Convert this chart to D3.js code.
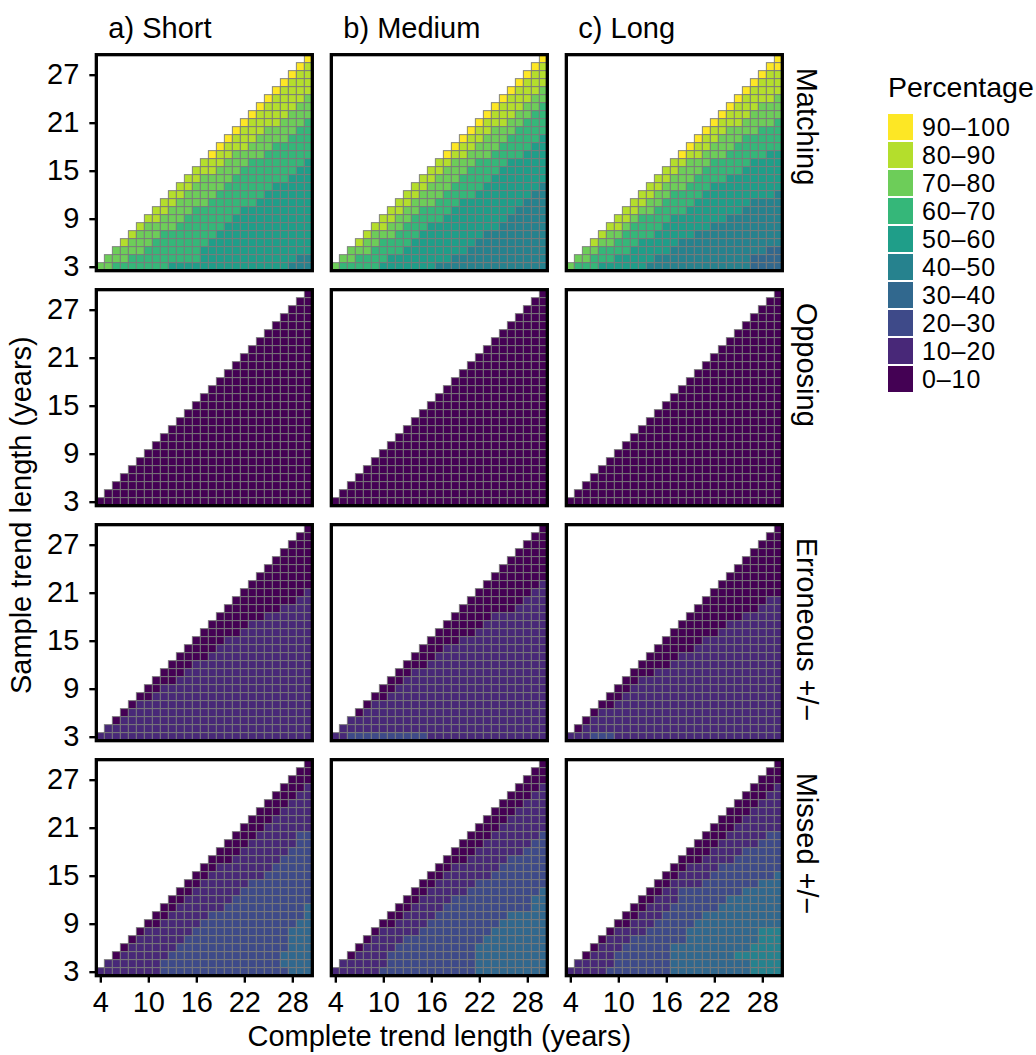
<!DOCTYPE html>
<html>
<head>
<meta charset="utf-8">
<script src="https://cdn.jsdelivr.net/npm/d3@7"></script>
<style>
  body { margin: 0; background: #fff; }
  text { font-family: "Liberation Sans", Arial, Helvetica, sans-serif; fill: #000; }
</style>
</head>
<body>
<div id="chart"></div>
<script>
// Facet labels
const trendTypes = ["a) Short", "b) Medium", "c) Long"];
const outcomes = ["Matching", "Opposing", "Erroneous +/\u2212", "Missed +/\u2212"];

// Axis values
const completeYears = [4, 5, 6, 7, 8, 9, 10, 11, 12, 13, 14, 15, 16, 17, 18, 19, 20, 21, 22, 23, 24, 25, 26, 27, 28, 29, 30];
const sampleYears = [29, 28, 27, 26, 25, 24, 23, 22, 21, 20, 19, 18, 17, 16, 15, 14, 13, 12, 11, 10, 9, 8, 7, 6, 5, 4, 3];
const xTicks = [4, 10, 16, 22, 28];
const yTicks = [3, 9, 15, 21, 27];

// Legend classes (index = class digit used in the grids below)
const classLabels = ["0\u201310", "10\u201320", "20\u201330", "30\u201340", "40\u201350",
                     "50\u201360", "60\u201370", "70\u201380", "80\u201390", "90\u2013100"];
const classColors = ["#440154", "#482878", "#3E4A89", "#31688E", "#26828E",
                     "#1F9E89", "#35B779", "#6DCD59", "#B4DE2C", "#FDE725"];

// Percentage class per cell. One string per sample length (29 at top, 3 at bottom),
// one character per complete length 4..30 (groups: 4-9, 10-15, 16-21, 22-27, 28-30).
// "." = no cell.
const matchingShort = [
  "...... ...... ...... ...... ..9",
  "...... ...... ...... ...... .98",
  "...... ...... ...... ...... 988",
  "...... ...... ...... .....9 888",
  "...... ...... ...... ....98 888",
  "...... ...... ...... ...988 887",
  "...... ...... ...... ..9888 877",
  "...... ...... ...... .98888 777",
  "...... ...... ...... 988887 776",
  "...... ...... .....9 888777 766",
  "...... ...... ....98 887777 666",
  "...... ...... ...988 877766 666",
  "...... ...... ..9887 777666 666",
  "...... ...... .88877 766666 665",
  "...... ...... 888777 666666 655",
  "...... .....8 877776 666666 555",
  "...... ....88 777766 666655 555",
  "...... ...887 777666 666555 555",
  "...... ..8877 776666 665555 555",
  "...... .88777 666666 555555 555",
  "...... 887776 666665 555555 555",
  ".....8 777766 666655 555555 555",
  "....87 776666 666555 555555 555",
  "...877 766666 665555 555555 555",
  "..7777 666666 655555 555555 555",
  ".77766 666666 655555 555555 544",
  "776666 666555 555555 555555 444"
];
const matchingMedium = [
  "...... ...... ...... ...... ..9",
  "...... ...... ...... ...... .98",
  "...... ...... ...... ...... 988",
  "...... ...... ...... .....9 888",
  "...... ...... ...... ....98 887",
  "...... ...... ...... ...988 877",
  "...... ...... ...... ..9888 776",
  "...... ...... ...... .98887 766",
  "...... ...... ...... 988877 666",
  "...... ...... .....9 887776 666",
  "...... ...... ....98 877766 665",
  "...... ...... ...988 777666 655",
  "...... ...... ..9887 776666 555",
  "...... ...... .88777 666655 555",
  "...... ...... 887776 666555 555",
  "...... .....8 877766 665555 555",
  "...... ....88 777666 655555 554",
  "...... ...887 776666 555555 544",
  "...... ..8877 766655 555555 444",
  "...... .88776 666555 555554 444",
  "...... 887766 665555 555544 444",
  ".....8 877666 555555 555444 444",
  "....87 776665 555555 544444 444",
  "...877 666655 555555 444444 444",
  "..7776 666555 555554 444444 444",
  ".77666 655555 555444 444444 444",
  "766666 555555 544444 444444 444"
];
const matchingLong = [
  "...... ...... ...... ...... ..9",
  "...... ...... ...... ...... .99",
  "...... ...... ...... ...... 988",
  "...... ...... ...... .....9 888",
  "...... ...... ...... ....98 888",
  "...... ...... ...... ...988 887",
  "...... ...... ...... ..9888 777",
  "...... ...... ...... .98887 777",
  "...... ...... ...... 988877 776",
  "...... ...... .....9 887777 666",
  "...... ...... ....98 877766 666",
  "...... ...... ...988 777666 666",
  "...... ...... ..9887 776666 655",
  "...... ...... .88777 666665 555",
  "...... ...... 887776 666655 555",
  "...... .....8 877766 665555 555",
  "...... ....88 777666 555555 555",
  "...... ...887 766665 555555 554",
  "...... ..8877 666655 555554 444",
  "...... .88776 666555 555544 444",
  "...... 887666 655555 554444 444",
  ".....8 876666 555555 444444 444",
  "....87 766665 555544 444444 444",
  "...877 666555 554444 444444 444",
  "..7766 665555 544444 444444 433",
  ".77666 555554 444444 444443 333",
  "766655 555544 444444 444443 333"
];
const opposingShort = [
  "...... ...... ...... ...... ..0",
  "...... ...... ...... ...... .00",
  "...... ...... ...... ...... 000",
  "...... ...... ...... .....0 000",
  "...... ...... ...... ....00 000",
  "...... ...... ...... ...000 000",
  "...... ...... ...... ..0000 000",
  "...... ...... ...... .00000 000",
  "...... ...... ...... 000000 000",
  "...... ...... .....0 000000 000",
  "...... ...... ....00 000000 000",
  "...... ...... ...000 000000 000",
  "...... ...... ..0000 000000 000",
  "...... ...... .00000 000000 000",
  "...... ...... 000000 000000 000",
  "...... .....0 000000 000000 000",
  "...... ....00 000000 000000 000",
  "...... ...000 000000 000000 000",
  "...... ..0000 000000 000000 000",
  "...... .00000 000000 000000 000",
  "...... 000000 000000 000000 000",
  ".....0 000000 000000 000000 000",
  "....00 000000 000000 000000 000",
  "...000 000000 000000 000000 000",
  "..0000 000000 000000 000000 000",
  ".00000 000000 000000 000000 000",
  "000000 000000 000000 000000 000"
];
const opposingMedium = [
  "...... ...... ...... ...... ..0",
  "...... ...... ...... ...... .00",
  "...... ...... ...... ...... 000",
  "...... ...... ...... .....0 000",
  "...... ...... ...... ....00 000",
  "...... ...... ...... ...000 000",
  "...... ...... ...... ..0000 000",
  "...... ...... ...... .00000 000",
  "...... ...... ...... 000000 000",
  "...... ...... .....0 000000 000",
  "...... ...... ....00 000000 000",
  "...... ...... ...000 000000 000",
  "...... ...... ..0000 000000 000",
  "...... ...... .00000 000000 000",
  "...... ...... 000000 000000 000",
  "...... .....0 000000 000000 000",
  "...... ....00 000000 000000 000",
  "...... ...000 000000 000000 000",
  "...... ..0000 000000 000000 000",
  "...... .00000 000000 000000 000",
  "...... 000000 000000 000000 000",
  ".....0 000000 000000 000000 000",
  "....00 000000 000000 000000 000",
  "...000 000000 000000 000000 000",
  "..0000 000000 000000 000000 000",
  ".00000 000000 000000 000000 000",
  "000000 000000 000000 000000 000"
];
const opposingLong = [
  "...... ...... ...... ...... ..0",
  "...... ...... ...... ...... .00",
  "...... ...... ...... ...... 000",
  "...... ...... ...... .....0 000",
  "...... ...... ...... ....00 000",
  "...... ...... ...... ...000 000",
  "...... ...... ...... ..0000 000",
  "...... ...... ...... .00000 000",
  "...... ...... ...... 000000 000",
  "...... ...... .....0 000000 000",
  "...... ...... ....00 000000 000",
  "...... ...... ...000 000000 000",
  "...... ...... ..0000 000000 000",
  "...... ...... .00000 000000 000",
  "...... ...... 000000 000000 000",
  "...... .....0 000000 000000 000",
  "...... ....00 000000 000000 000",
  "...... ...000 000000 000000 000",
  "...... ..0000 000000 000000 000",
  "...... .00000 000000 000000 000",
  "...... 000000 000000 000000 000",
  ".....0 000000 000000 000000 000",
  "....00 000000 000000 000000 000",
  "...000 000000 000000 000000 000",
  "..0000 000000 000000 000000 000",
  ".00000 000000 000000 000000 000",
  "000000 000000 000000 000000 000"
];
const erroneousShort = [
  "...... ...... ...... ...... ..0",
  "...... ...... ...... ...... .00",
  "...... ...... ...... ...... 000",
  "...... ...... ...... .....0 000",
  "...... ...... ...... ....00 000",
  "...... ...... ...... ...000 000",
  "...... ...... ...... ..0000 000",
  "...... ...... ...... .00000 000",
  "...... ...... ...... 000000 001",
  "...... ...... .....0 000000 011",
  "...... ...... ....00 000001 111",
  "...... ...... ...000 000111 111",
  "...... ...... ..0000 011111 111",
  "...... ...... .00000 111111 111",
  "...... ...... 000011 111111 111",
  "...... .....0 000111 111111 111",
  "...... ....00 001111 111111 111",
  "...... ...000 111111 111111 111",
  "...... ..0001 111111 111111 111",
  "...... .00011 111111 111111 111",
  "...... 001111 111111 111111 111",
  ".....0 011111 111111 111111 111",
  "....01 111111 111111 111111 111",
  "...011 111111 111111 111111 111",
  "..0111 111111 111111 111111 111",
  ".11111 111111 111111 111111 111",
  "111111 111111 111111 111111 111"
];
const erroneousMedium = [
  "...... ...... ...... ...... ..0",
  "...... ...... ...... ...... .00",
  "...... ...... ...... ...... 000",
  "...... ...... ...... .....0 000",
  "...... ...... ...... ....00 000",
  "...... ...... ...... ...000 000",
  "...... ...... ...... ..0000 000",
  "...... ...... ...... .00000 001",
  "...... ...... ...... 000000 011",
  "...... ...... .....0 000000 111",
  "...... ...... ....00 000001 111",
  "...... ...... ...000 001111 111",
  "...... ...... ..0000 011111 111",
  "...... ...... .00000 111111 111",
  "...... ...... 000011 111111 111",
  "...... .....0 001111 111111 111",
  "...... ....00 011111 111111 111",
  "...... ...000 111111 111111 111",
  "...... ..0011 111111 111111 111",
  "...... .00111 111111 111111 111",
  "...... 001111 111111 111111 111",
  ".....0 011111 111111 111111 111",
  "....01 111111 111111 111111 111",
  "...011 111111 111111 111111 111",
  "..1111 111111 111111 111111 111",
  ".11111 111111 111111 111111 111",
  "112222 222222 111111 111111 111"
];
const erroneousLong = [
  "...... ...... ...... ...... ..0",
  "...... ...... ...... ...... .00",
  "...... ...... ...... ...... 000",
  "...... ...... ...... .....0 000",
  "...... ...... ...... ....00 000",
  "...... ...... ...... ...000 000",
  "...... ...... ...... ..0000 000",
  "...... ...... ...... .00000 000",
  "...... ...... ...... 000000 000",
  "...... ...... .....0 000000 011",
  "...... ...... ....00 000000 111",
  "...... ...... ...000 000011 111",
  "...... ...... ..0000 001111 111",
  "...... ...... .00000 011111 111",
  "...... ...... 000001 111111 111",
  "...... .....0 000011 111111 111",
  "...... ....00 001111 111111 111",
  "...... ...000 011111 111111 111",
  "...... ..0001 111111 111111 111",
  "...... .00111 111111 111111 111",
  "...... 001111 111111 111111 111",
  ".....0 011111 111111 111111 111",
  "....00 111111 111111 111111 111",
  "...011 111111 111111 111111 111",
  "..0111 111111 111111 111111 111",
  ".01111 111111 111111 111111 111",
  "111222 111111 111111 111111 111"
];
const missedShort = [
  "...... ...... ...... ...... ..0",
  "...... ...... ...... ...... .00",
  "...... ...... ...... ...... 000",
  "...... ...... ...... .....0 001",
  "...... ...... ...... ....00 011",
  "...... ...... ...... ...000 111",
  "...... ...... ...... ..0001 111",
  "...... ...... ...... .00011 111",
  "...... ...... ...... 000111 111",
  "...... ...... .....0 001111 122",
  "...... ...... ....00 011111 122",
  "...... ...... ...000 111111 222",
  "...... ...... ..0001 111112 222",
  "...... ...... .00111 111122 222",
  "...... ...... 001111 111222 222",
  "...... .....0 011111 122222 222",
  "...... ....00 111111 222222 222",
  "...... ...001 111112 222222 222",
  "...... ..0011 111122 222222 223",
  "...... .00111 112222 222222 223",
  "...... 001111 122222 222222 233",
  ".....0 111111 222222 222222 333",
  "....01 111112 222222 222222 333",
  "...011 111122 222222 222222 333",
  "..0111 111222 222222 222223 333",
  ".11111 112222 222222 222223 333",
  "111111 112222 222222 222222 333"
];
const missedMedium = [
  "...... ...... ...... ...... ..0",
  "...... ...... ...... ...... .00",
  "...... ...... ...... ...... 000",
  "...... ...... ...... .....0 001",
  "...... ...... ...... ....00 011",
  "...... ...... ...... ...000 111",
  "...... ...... ...... ..0001 111",
  "...... ...... ...... .00011 111",
  "...... ...... ...... 000111 111",
  "...... ...... .....0 001111 112",
  "...... ...... ....00 011111 122",
  "...... ...... ...000 111111 222",
  "...... ...... ..0001 111122 222",
  "...... ...... .00111 111222 222",
  "...... ...... 001111 112222 222",
  "...... .....0 011111 222222 222",
  "...... ....00 111112 222222 223",
  "...... ...001 111222 222222 233",
  "...... ..0011 112222 222222 233",
  "...... .00111 122222 222233 333",
  "...... 001111 222222 222333 333",
  ".....0 111112 222222 223333 333",
  "....01 111222 222222 233333 333",
  "...011 112222 222222 333333 333",
  "..0111 122222 222222 333333 333",
  ".11111 122222 222222 333333 333",
  "111111 222222 222222 333333 333"
];
const missedLong = [
  "...... ...... ...... ...... ..0",
  "...... ...... ...... ...... .00",
  "...... ...... ...... ...... 000",
  "...... ...... ...... .....0 001",
  "...... ...... ...... ....00 011",
  "...... ...... ...... ...000 111",
  "...... ...... ...... ..0001 111",
  "...... ...... ...... .00011 111",
  "...... ...... ...... 000111 111",
  "...... ...... .....0 001111 122",
  "...... ...... ....00 011111 222",
  "...... ...... ...000 111122 222",
  "...... ...... ..0001 111222 222",
  "...... ...... .00111 122222 222",
  "...... ...... 001111 222222 223",
  "...... .....0 011112 222222 333",
  "...... ....00 112222 222233 333",
  "...... ...001 112222 223333 333",
  "...... ..0011 122222 233333 333",
  "...... .00111 222223 333333 333",
  "...... 001112 222233 333333 333",
  ".....0 111122 222333 333333 444",
  "....01 112222 222333 333333 444",
  "...011 122222 233333 333334 444",
  "..0111 222222 233333 333444 444",
  ".11111 222222 233333 333334 444",
  "111112 222222 233333 333334 444"
];

// rows = outcomes, columns = trend types
const panelGrids = [
  [matchingShort, matchingMedium, matchingLong],
  [opposingShort, opposingMedium, opposingLong],
  [erroneousShort, erroneousMedium, erroneousLong],
  [missedShort, missedMedium, missedLong]
];

const width = 1036, height = 1055;
const panelSize = 216, panelStep = 235;
const originX = 96.33, originY = 54.67;
const fontSize = 29;

const svg = d3.select("#chart").append("svg")
    .attr("width", width)
    .attr("height", height);

let x = d3.scaleLinear().domain([3.5, 30.5]).range([0, panelSize]);
let y = d3.scaleLinear().domain([2.5, 29.5]).range([panelSize, 0]);
let fill = d3.scaleOrdinal().domain(d3.range(classColors.length)).range(classColors);

// turn a grid of strings into cell records
function gridCells(grid) {
    let cells = [];
    grid.forEach(function(row, r) {
        let chars = row.replace(/ /g, "");
        for (let k = 0; k < chars.length; k++) {
            if (chars[k] === ".") continue;
            cells.push({complete: completeYears[k], sample: sampleYears[r], level: +chars[k]});
        }
    });
    return cells;
}

outcomes.forEach(function(outcome, i) {
    trendTypes.forEach(function(trend, j) {
        let g = svg.append("g")
            .attr("transform", `translate(${originX + j * panelStep}, ${originY + i * panelStep})`);

        g.selectAll("rect.cell")
            .data(gridCells(panelGrids[i][j]))
            .enter()
            .append("rect")
            .attr("class", "cell")
            .attr("x", d => x(d.complete - 0.5))
            .attr("y", d => y(d.sample + 0.5))
            .attr("width", x(1) - x(0))
            .attr("height", y(0) - y(1))
            .style("fill", d => fill(d.level))
            .style("stroke", "#7a7a7a")
            .style("stroke-width", 0.9);

        // panel border
        g.append("rect")
            .attr("width", panelSize)
            .attr("height", panelSize)
            .style("fill", "none")
            .style("stroke", "#000")
            .style("stroke-width", 3.3);

        if (j === 0) {
            let ax = g.append("g")
                .call(d3.axisLeft(y).tickValues(yTicks).tickSize(7).tickPadding(10));
            styleAxis(ax);
        }
        if (i === outcomes.length - 1) {
            let ax = g.append("g")
                .attr("transform", `translate(0, ${panelSize})`)
                .call(d3.axisBottom(x).tickValues(xTicks).tickSize(7).tickPadding(9));
            styleAxis(ax);
        }

        // column strip (top)
        if (i === 0) {
            g.append("text")
                .attr("x", 12)
                .attr("y", 38 - originY)
                .style("font-size", fontSize + "px")
                .text(trend);
        }
        // row strip (right)
        if (j === trendTypes.length - 1) {
            g.append("text")
                .attr("transform", `translate(${797 - originX - j * panelStep}, 13) rotate(90)`)
                .style("font-size", fontSize + "px")
                .text(outcome);
        }
    });
});

function styleAxis(ax) {
    ax.select(".domain").remove();
    ax.selectAll(".tick line").style("stroke", "#000").style("stroke-width", 2.4);
    ax.selectAll(".tick text")
        .style("font-size", fontSize + "px")
        .style("font-family", '"Liberation Sans", Arial, Helvetica, sans-serif')
        .style("fill", "#000");
}

// axis titles
svg.append("text")
    .attr("transform", `translate(${originX + (2 * panelStep + panelSize) / 2}, 1046)`)
    .style("text-anchor", "middle")
    .style("font-size", fontSize + "px")
    .text("Complete trend length (years)");

svg.append("text")
    .attr("transform", `translate(31, ${originY + (3 * panelStep + panelSize) / 2}) rotate(-90)`)
    .style("text-anchor", "middle")
    .style("font-size", fontSize + "px")
    .text("Sample trend length (years)");

// legend
let legend = svg.append("g").attr("transform", "translate(888, 0)");
legend.append("text")
    .attr("x", 0)
    .attr("y", 97)
    .style("font-size", "28.5px")
    .text("Percentage");

let keyOrder = d3.range(classLabels.length).reverse();
let keyY = d3.scaleBand().domain(keyOrder).range([113, 393]);

legend.selectAll("rect.key")
    .data(keyOrder)
    .enter()
    .append("rect")
    .attr("class", "key")
    .attr("x", 0)
    .attr("y", d => keyY(d) + 1)
    .attr("width", 25)
    .attr("height", keyY.bandwidth() - 2)
    .style("fill", d => classColors[d]);

legend.selectAll("text.key-label")
    .data(keyOrder)
    .enter()
    .append("text")
    .attr("class", "key-label")
    .attr("x", 34)
    .attr("y", d => keyY(d) + keyY.bandwidth() / 2)
    .attr("dy", "0.36em")
    .style("font-size", "25px")
    .style("letter-spacing", "0.9px")
    .text(d => classLabels[d]);
</script>
</body>
</html>
